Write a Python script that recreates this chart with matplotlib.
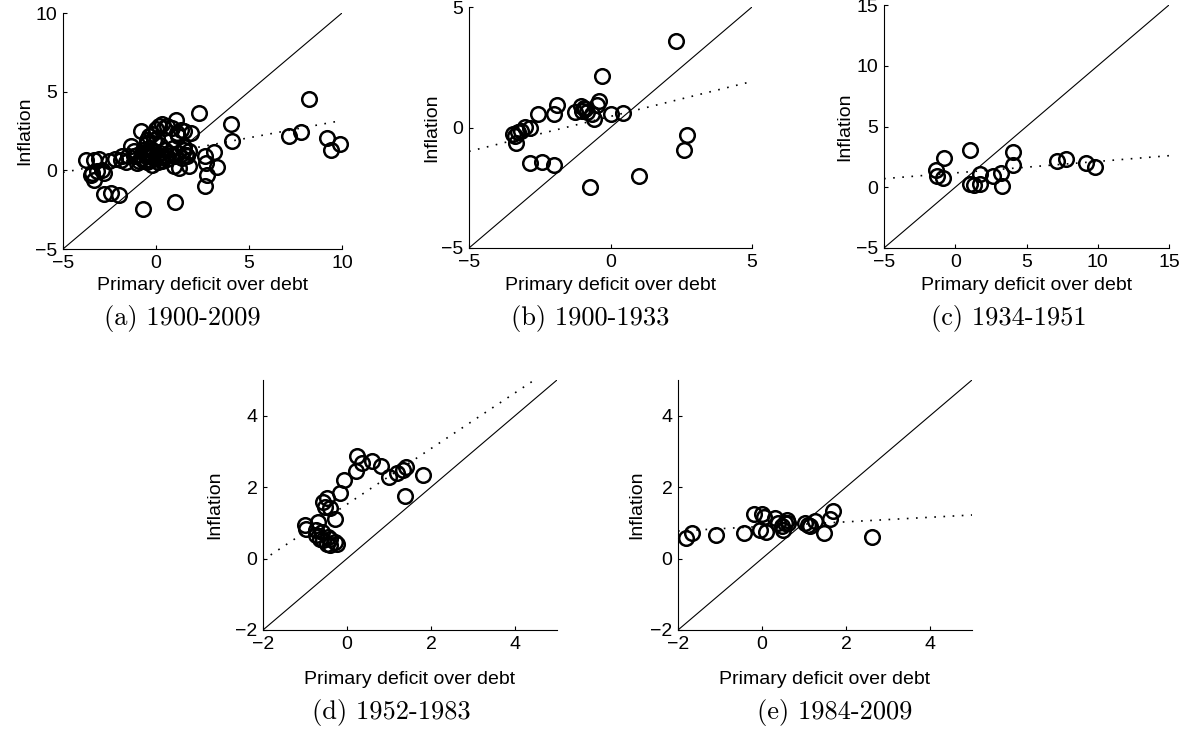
import numpy as np
import matplotlib.pyplot as plt

# --- DATA ---
# (a) 1900-2009
a_x = [-3.78, -3.33, -3.06, -3.42, -3.33, -3.15, -2.89, -2.80, -2.53, -2.80, -2.40, -1.99,
       -1.90, -1.81, -1.63, -1.36, -1.18, -1.00, -0.79, -0.72, -0.56, -0.47, -0.38, -0.29,
       -0.29, -0.20, -0.11, 0.07, 0.16, 0.34, 0.43, 0.61, 0.70, 0.88, 1.06, 1.11, 1.33, 1.51,
       1.00, 0.97, 1.24, 1.51, 1.68, 1.77, 1.90, 2.31, 2.62, 2.67, 2.72, 2.62, 3.12, 3.26,
       4.01, 4.10, 7.15, 7.78, 8.23, 9.21, 9.39, 9.89,
       -1.00, -0.80, -0.60, -0.40, -0.20, 0.00, 0.20, 0.40, 0.60, 0.80, 1.00, 1.20, 1.40,
       -0.90, -0.50, 0.10, 0.30, 0.50, -0.30, -0.70, 0.90, 1.60, -0.10, 0.20, -0.50, -0.20,
       0.00, 1.20, 1.50, -2.20, -1.50, -3.50, 1.77, 1.60, 0.61, 0.25, -0.65, -1.18, 0.07]
a_y = [0.63, 0.63, 0.72, -0.17, -0.59, -0.06, 0.04, -0.17, 0.57, -1.50, -1.44, -1.54,
       0.68, 0.89, 0.53, 1.52, 0.89, 0.47, 2.47, -2.45, 0.89, 1.73, 2.16, 1.31,
       0.68, 0.36, 1.94, 0.99, 2.83, 2.96, 2.68, 2.79, 1.10, 2.68, 3.21, 2.37, 2.54, 2.47,
       -2.03, 0.25, 0.15, 1.31, 0.89, 0.25, 2.37, 3.64, 0.89, 0.47, -0.27, -1.01, 1.14, 0.19,
       2.96, 1.84, 2.20, 2.41, 4.55, 2.05, 1.31, 1.69,
       1.00, 0.80, 1.10, 0.90, 1.00, 0.80, 1.10, 0.90, 0.70, 1.00, 0.90, 1.10, 0.80,
       0.60, 0.50, 0.50, 0.60, 1.30, 1.40, 1.30, 1.40, 1.00, 1.20, 1.60, 1.90, 2.30,
       2.60, 2.20, 1.50, 0.70, 0.90, -0.30, 1.20, 0.99, 0.89, 0.68, 0.57, 1.20, 2.05]

# (b) 1900-1933
b_x = [2.32, -0.29, -1.89, -2.56, -1.99, -3.45, -3.28, -3.33, -3.01, -2.86, -3.16, -1.24,
       -1.05, -0.95, -1.01, -0.84, -0.66, -0.60, -0.39, -0.48, 0.02, 0.44, -2.84, -2.41,
       -2.01, -0.72, 1.01, 2.69, 2.60, -3.38, -0.90]
b_y = [3.59, 2.15, 0.94, 0.54, 0.54, -0.26, -0.19, -0.66, 0.04, 0.00, -0.15, 0.63,
       0.91, 0.81, 0.68, 0.63, 0.54, 0.36, 1.09, 0.95, 0.58, 0.59, -1.49, -1.43,
       -1.56, -2.46, -2.00, -0.32, -0.95, -0.35, 0.75]

# (c) 1934-1951
c_x = [-0.77, 1.05, -1.33, -1.29, -0.87, 1.01, 1.33, 1.71, 1.75, 2.64, 3.20, 3.27,
       4.05, 4.05, 7.13, 7.79, 9.19, 9.82]
c_y = [2.41, 3.10, 1.40, 0.90, 0.77, 0.27, 0.16, 1.12, 0.30, 0.90, 1.18, 0.14,
       2.93, 1.81, 2.14, 2.36, 2.00, 1.64]

# (d) 1952-1983
d_x = [0.24, 0.36, 0.60, 0.81, 0.99, 1.19, 1.33, 1.41, 1.37, 1.81, 0.22, -0.08, -0.16,
       -0.48, -0.56, -0.41, -0.28, -0.99, -0.97, -0.68, -0.73, -0.75, -0.60, -0.56, -0.48,
       -0.40, -0.28, -0.25, -0.64, -0.40, -0.52, -0.45]
d_y = [2.88, 2.67, 2.72, 2.60, 2.28, 2.41, 2.48, 2.56, 1.75, 2.33, 2.44, 2.20, 1.83,
       1.71, 1.59, 1.43, 1.12, 0.94, 0.84, 1.03, 0.80, 0.66, 0.75, 0.51, 0.42,
       0.39, 0.47, 0.41, 0.56, 0.56, 1.45, 0.60]

# (e) 1984-2009
e_x = [-1.80, -1.67, -1.09, -0.44, -0.20, 0.00, 0.04, -0.04, 0.10, 0.32, 0.48, 0.55,
       0.60, 0.50, 0.63, 1.03, 1.15, 1.25, 1.48, 1.69, 1.63, 2.62, 0.38, 1.10]
e_y = [0.58, 0.72, 0.65, 0.72, 1.26, 1.26, 1.17, 0.79, 0.74, 1.14, 0.91, 1.00,
       1.08, 0.79, 1.00, 1.00, 0.91, 1.05, 0.72, 1.33, 1.10, 0.61, 1.00, 0.95]

# fitted (dotted) lines: slope, intercept
fit_slope = [0.22, 0.29, 0.0945, 0.78, 0.064]
fit_icpt = [0.97, 0.46, 1.18, 1.52, 0.90]

captions = ["(a) 1900-2009", "(b) 1900-1933", "(c) 1934-1951", "(d) 1952-1983", "(e) 1984-2009"]
limits = [(-5, 10), (-5, 5), (-5, 15), (-2, 5), (-2, 5)]
ticks = [[-5, 0, 5, 10], [-5, 0, 5], [-5, 0, 5, 10, 15], [-2, 0, 2, 4], [-2, 0, 2, 4]]

# axes boxes in pixels: left, right, top, bottom
boxes = [(63, 342, 13, 249), (469, 752, 7, 248), (884, 1169, 5, 248),
         (263, 557, 380, 630), (678, 972, 380, 630)]
ylabel_x = [25, 432, 845, 215, 637]
caption_pos = [(182, 318), (590, 318), (1009, 318), (391, 712), (835, 712)]
xlabel_y = [285, 285, 285, 680, 680]

W, H = 1195, 735
plt.rcParams['font.family'] = ['Liberation Sans', 'DejaVu Sans']
fig = plt.figure(figsize=(W / 100, H / 100), dpi=100)

data = [(a_x, a_y), (b_x, b_y), (c_x, c_y), (d_x, d_y), (e_x, e_y)]

for i, (xs, ys) in enumerate(data):
    l, r, t, b = boxes[i]
    ax = fig.add_axes([l / W, 1 - b / H, (r - l) / W, (b - t) / H])
    lo, hi = limits[i]

    # 45 degree line
    ax.plot([lo, hi], [lo, hi], color='black', linewidth=0.8)
    # regression line
    fx = np.array([lo, hi])
    ax.plot(fx, fit_slope[i] * fx + fit_icpt[i], color='black', linewidth=1.2,
            linestyle=(0, (1, 4.5)))
    ax.plot(xs, ys, 'o', markerfacecolor='none', markeredgecolor='black',
            markersize=10.5, markeredgewidth=1.8, clip_on=False)

    ax.set_xlim(lo, hi)
    ax.set_ylim(lo, hi)
    ax.set_xticks(ticks[i])
    ax.set_yticks(ticks[i])
    ax.spines['top'].set_visible(False)
    ax.spines['right'].set_visible(False)
    ax.tick_params(direction='in', length=3, labelsize=14)
    ax.tick_params(axis='x', pad=4)
    ax.tick_params(axis='y', pad=4)

    ax.set_xlabel("Primary deficit over debt", fontsize=14)
    ax.xaxis.set_label_coords((l + r) / 2 / W, 1 - xlabel_y[i] / H, transform=fig.transFigure)
    ax.set_ylabel("Inflation", fontsize=14)
    ax.yaxis.set_label_coords(ylabel_x[i] / W, 1 - (t + b) / 2 / H, transform=fig.transFigure)
    ax.xaxis.label.set_va('center')
    ax.yaxis.label.set_va('center')

    cx, cy = caption_pos[i]
    fig.text(cx / W, 1 - cy / H, captions[i], family=['cmr10', 'DejaVu Serif'],
             fontsize=19, ha='center', va='center')

fig.savefig('out.png', dpi=100)
